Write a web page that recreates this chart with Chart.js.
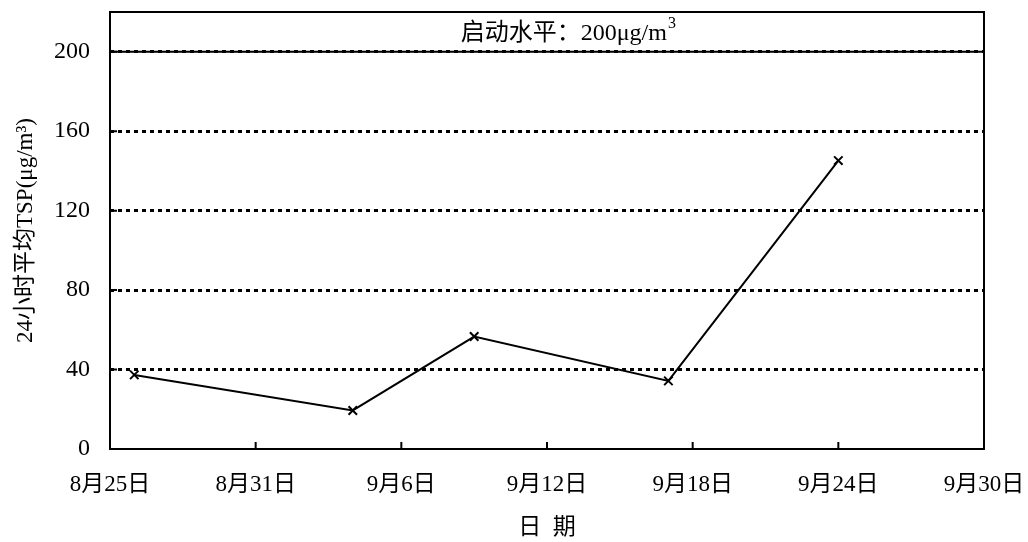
<!DOCTYPE html>
<html>
<head>
<meta charset="utf-8">
<script src="https://cdn.jsdelivr.net/npm/chart.js@4/dist/chart.umd.min.js"></script>
<style>
  html, body { margin: 0; padding: 0; background: #fff; }
  #box { width: 1028px; height: 542px; }
</style>
</head>
<body>
<div id="box"><canvas id="myChart"></canvas></div>
<script>
// jours depuis le 8月25日
const days = [1, 10, 15, 23, 30];
const tsp = [37.3, 19.4, 56.6, 34.3, 145.2];
const xTickLabels = ["8月25日", "8月31日", "9月6日", "9月12日", "9月18日", "9月24日", "9月30日"];
const yTicks = [0, 40, 80, 120, 160, 200];
const seuil = 200;
const seuilLabel = "启动水平：200μg/m";

const FONT = "'Liberation Serif', 'Noto Sans CJK SC', serif";

// cadre, petites graduations internes et texte du seuil
const decor = {
  id: "decor",
  afterDraw(chart) {
    const ctx = chart.ctx;
    const a = chart.chartArea;
    const xs = chart.scales.x, ys = chart.scales.y;
    ctx.save();
    ctx.strokeStyle = "#000";
    ctx.lineWidth = 2;
    ctx.strokeRect(a.left, a.top, a.right - a.left, a.bottom - a.top);
    ctx.beginPath();
    for (let i = 1; i < xTickLabels.length - 1; i++) {
      const px = xs.getPixelForValue(i * 6);
      ctx.moveTo(px, a.bottom);
      ctx.lineTo(px, a.bottom - 7);
    }
    yTicks.forEach(v => {
      const py = ys.getPixelForValue(v);
      ctx.moveTo(a.left, py);
      ctx.lineTo(a.left + 7, py);
    });
    ctx.stroke();
    // texte du seuil
    ctx.fillStyle = "#000";
    ctx.font = "24px " + FONT;
    ctx.textBaseline = "middle";
    const tx = xs.getPixelForValue(18.9);
    const ty = ys.getPixelForValue(210);
    const w = ctx.measureText(seuilLabel).width;
    ctx.textAlign = "left";
    ctx.fillText(seuilLabel, tx - w / 2 - 5, ty + 2);
    ctx.font = "16px " + FONT;
    ctx.fillText("3", tx + w / 2 - 4, ty - 8);
    ctx.restore();
  }
};

const context = document.getElementById("myChart");
const myChart = new Chart(context, {
  type: "line",
  data: {
    datasets: [
      {
        data: days.map((d, i) => ({ x: d, y: tsp[i] })),
        borderColor: "#000",
        borderWidth: 2,
        pointStyle: "crossRot",
        pointRadius: 6,
        pointBorderWidth: 2,
        pointBorderColor: "#000",
        tension: 0
      },
      {
        data: [{ x: 0, y: seuil }, { x: 36, y: seuil }],
        borderColor: "#000",
        borderWidth: 2,
        pointRadius: 0
      }
    ]
  },
  options: {
    responsive: true,
    maintainAspectRatio: false,
    animation: false,
    layout: { padding: { top: 12, right: 44, left: 0, bottom: 0 } },
    plugins: { legend: { display: false }, tooltip: { enabled: false } },
    scales: {
      x: {
        type: "linear",
        min: 0,
        max: 36,
        afterBuildTicks(scale) {
          scale.ticks = xTickLabels.map((_, i) => ({ value: i * 6 }));
        },
        afterFit(scale) {
          scale.height = 93;
          scale.paddingLeft = 0;
          scale.paddingRight = 0;
        },
        grid: { display: false },
        border: { display: false },
        ticks: {
          color: "#000",
          padding: 14,
          maxRotation: 0,
          font: { family: FONT, size: 23 },
          callback: (v) => xTickLabels[v / 6]
        },
        title: {
          display: true,
          text: "日  期",
          color: "#000",
          font: { family: FONT, size: 23 },
          padding: { top: 22, bottom: 0 }
        }
      },
      y: {
        min: 0,
        max: 220,
        afterBuildTicks(scale) {
          scale.ticks = yTicks.map(v => ({ value: v }));
        },
        afterFit(scale) {
          scale.width = 110;
          scale.paddingTop = 0;
          scale.paddingBottom = 0;
        },
        border: { display: false },
        grid: {
          color: (c) => (c.tick && c.tick.value > 0 ? "#000" : "rgba(0,0,0,0)"),
          lineWidth: 3,
          tickLength: 0,
          drawTicks: false
        },
        ticks: {
          color: "#000",
          padding: 20,
          font: { family: FONT, size: 24 }
        },
        title: {
          display: true,
          text: "24小时平均TSP(μg/m³)",
          color: "#000",
          font: { family: FONT, size: 23 },
          padding: { top: 12, bottom: 0 }
        }
      }
    }
  },
  plugins: [decor]
});
// grille pointillée
myChart.options.scales.y.grid.borderDash = [4, 4];
myChart.options.scales.y.border.dash = [4, 4];
myChart.update();
</script>
</body>
</html>
